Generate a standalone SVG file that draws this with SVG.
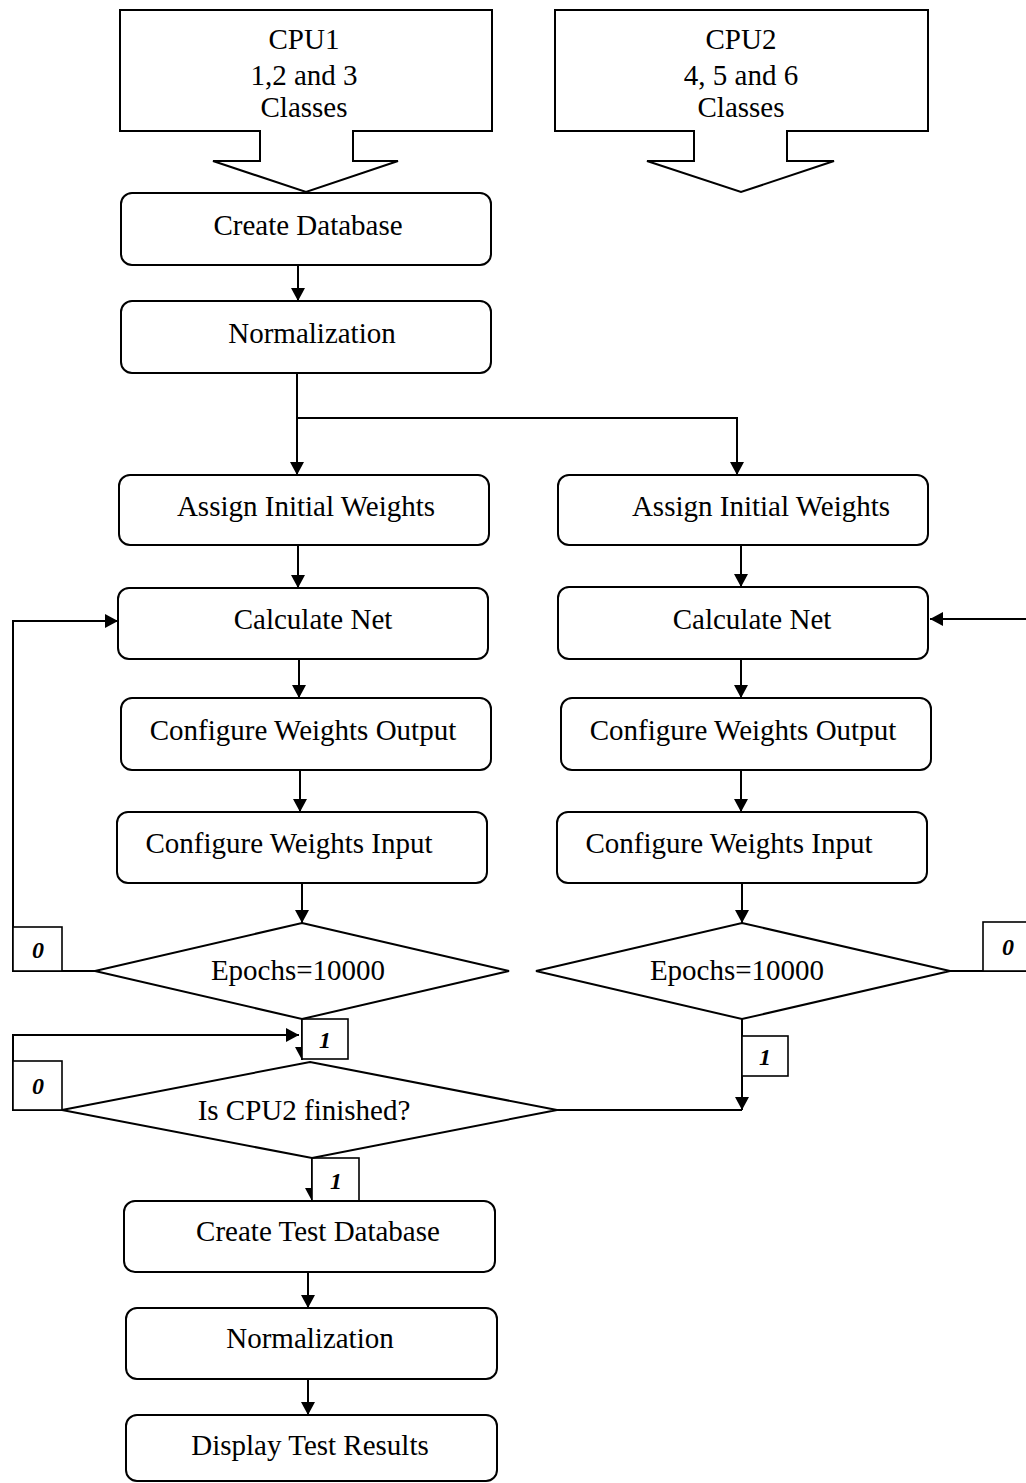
<svg xmlns="http://www.w3.org/2000/svg" width="1026" height="1483" viewBox="0 0 1026 1483">
  <defs>
    <marker id="arrow" markerUnits="userSpaceOnUse" markerWidth="14" markerHeight="14" refX="13" refY="7" orient="auto">
      <path d="M0,0 L13,7 L0,14 Z" fill="#000"/>
    </marker>
    <style>
      .box { fill: #fff; stroke: #000; stroke-width: 2; }
      .shape { fill: #fff; stroke: #000; stroke-width: 2; stroke-linejoin: miter; }
      .lbl { fill: #fff; stroke: #000; stroke-width: 1.6; }
      .wire { fill: none; stroke: #000; stroke-width: 2; }
      .arr { marker-end: url(#arrow); }
      .t { font-family: "Liberation Serif", "Times New Roman", serif; font-size: 29px; fill: #000; text-anchor: middle; }
      .n { font-family: "Liberation Serif", "Times New Roman", serif; font-size: 24px; font-weight: bold; font-style: italic; fill: #000; text-anchor: middle; }
    </style>
  </defs>

  <rect width="1026" height="1483" fill="#fff"/>

  <!-- connectors -->
  <g id="connectors">
    <line class="wire arr" x1="298" y1="265" x2="298" y2="301"/>
    <line class="wire arr" x1="297" y1="373" x2="297" y2="475"/>
    <polyline class="wire arr" points="297,418 737,418 737,475"/>
    <line class="wire arr" x1="298" y1="545" x2="298" y2="588"/>
    <line class="wire arr" x1="741" y1="545" x2="741" y2="587"/>
    <line class="wire arr" x1="299" y1="659" x2="299" y2="698"/>
    <line class="wire arr" x1="741" y1="659" x2="741" y2="698"/>
    <line class="wire arr" x1="300" y1="770" x2="300" y2="812"/>
    <line class="wire arr" x1="741" y1="770" x2="741" y2="812"/>
    <line class="wire arr" x1="302" y1="883" x2="302" y2="923"/>
    <line class="wire arr" x1="742" y1="883" x2="742" y2="923"/>
    <!-- CPU1 epoch loop -->
    <polyline class="wire arr" points="95,971 13,971 13,621 118,621"/>
    <!-- CPU2 epoch loop -->
    <polyline class="wire arr" points="950,971 1028,971 1028,619 930,619"/>
    <!-- epochs done -->
    <line class="wire arr" x1="302" y1="1019" x2="302" y2="1060"/>
    <line class="wire arr" x1="742" y1="1019" x2="742" y2="1110"/>
    <!-- wait loop -->
    <polyline class="wire arr" points="62,1110 13,1110 13,1035 299,1035"/>
    <line class="wire" x1="557" y1="1110" x2="742" y2="1110"/>
    <line class="wire arr" x1="312" y1="1158" x2="312" y2="1201"/>
    <line class="wire arr" x1="308" y1="1272" x2="308" y2="1308"/>
    <line class="wire arr" x1="308" y1="1379" x2="308" y2="1415"/>
  </g>

  <!-- branch value labels -->
  <g id="labels">
    <rect class="lbl" x="13" y="927" width="49" height="44"/>
    <text class="n" x="38" y="958">0</text>
    <rect class="lbl" x="983" y="922" width="47" height="49"/>
    <text class="n" x="1008" y="955">0</text>
    <rect class="lbl" x="302" y="1019" width="46" height="40"/>
    <text class="n" x="325" y="1048">1</text>
    <rect class="lbl" x="13" y="1061" width="49" height="49"/>
    <text class="n" x="38" y="1094">0</text>
    <rect class="lbl" x="742" y="1036" width="46" height="40"/>
    <text class="n" x="765" y="1065">1</text>
    <rect class="lbl" x="312" y="1158" width="47" height="43"/>
    <text class="n" x="336" y="1189">1</text>
  </g>

  <!-- processor inputs -->
  <g id="cpu1">
    <path class="shape" d="M120,10 H492 V131 H353 V161 H398 L306,192 L213,161 H260 V131 H120 Z"/>
    <text class="t" x="304" y="49">CPU1</text>
    <text class="t" x="304" y="85">1,2 and 3</text>
    <text class="t" x="304" y="117">Classes</text>
  </g>
  <g id="cpu2">
    <path class="shape" d="M555,10 H928 V131 H787 V161 H834 L741,192 L647,161 H694 V131 H555 Z"/>
    <text class="t" x="741" y="49">CPU2</text>
    <text class="t" x="741" y="85">4, 5 and 6</text>
    <text class="t" x="741" y="117">Classes</text>
  </g>

  <!-- CPU1 column -->
  <g id="create-db">
    <rect class="box" x="121" y="193" width="370" height="72" rx="11"/>
    <text class="t" x="308" y="235">Create Database</text>
  </g>
  <g id="normalization">
    <rect class="box" x="121" y="301" width="370" height="72" rx="11"/>
    <text class="t" x="312" y="343">Normalization</text>
  </g>
  <g id="assign-1">
    <rect class="box" x="119" y="475" width="370" height="70" rx="11"/>
    <text class="t" x="306" y="516">Assign Initial Weights</text>
  </g>
  <g id="net-1">
    <rect class="box" x="118" y="588" width="370" height="71" rx="11"/>
    <text class="t" x="313" y="629">Calculate Net</text>
  </g>
  <g id="wout-1">
    <rect class="box" x="121" y="698" width="370" height="72" rx="11"/>
    <text class="t" x="303" y="740">Configure Weights Output</text>
  </g>
  <g id="win-1">
    <rect class="box" x="117" y="812" width="370" height="71" rx="11"/>
    <text class="t" x="289" y="853">Configure Weights Input</text>
  </g>
  <g id="epochs-1">
    <polygon class="shape" points="302,923 509,971 302,1019 95,971"/>
    <text class="t" x="298" y="980">Epochs=10000</text>
  </g>
  <g id="cpu2-done">
    <polygon class="shape" points="310,1062 557,1110 312,1158 62,1110"/>
    <text class="t" x="304" y="1120">Is CPU2 finished?</text>
  </g>
  <g id="create-test-db">
    <rect class="box" x="124" y="1201" width="371" height="71" rx="11"/>
    <text class="t" x="318" y="1241">Create Test Database</text>
  </g>
  <g id="normalization-test">
    <rect class="box" x="126" y="1308" width="371" height="71" rx="11"/>
    <text class="t" x="310" y="1348">Normalization</text>
  </g>
  <g id="display-results">
    <rect class="box" x="126" y="1415" width="371" height="66" rx="11"/>
    <text class="t" x="310" y="1455">Display Test Results</text>
  </g>

  <!-- CPU2 column -->
  <g id="assign-2">
    <rect class="box" x="558" y="475" width="370" height="70" rx="11"/>
    <text class="t" x="761" y="516">Assign Initial Weights</text>
  </g>
  <g id="net-2">
    <rect class="box" x="558" y="587" width="370" height="72" rx="11"/>
    <text class="t" x="752" y="629">Calculate Net</text>
  </g>
  <g id="wout-2">
    <rect class="box" x="561" y="698" width="370" height="72" rx="11"/>
    <text class="t" x="743" y="740">Configure Weights Output</text>
  </g>
  <g id="win-2">
    <rect class="box" x="557" y="812" width="370" height="71" rx="11"/>
    <text class="t" x="729" y="853">Configure Weights Input</text>
  </g>
  <g id="epochs-2">
    <polygon class="shape" points="742,923 950,971 742,1019 536,971"/>
    <text class="t" x="737" y="980">Epochs=10000</text>
  </g>
</svg>
